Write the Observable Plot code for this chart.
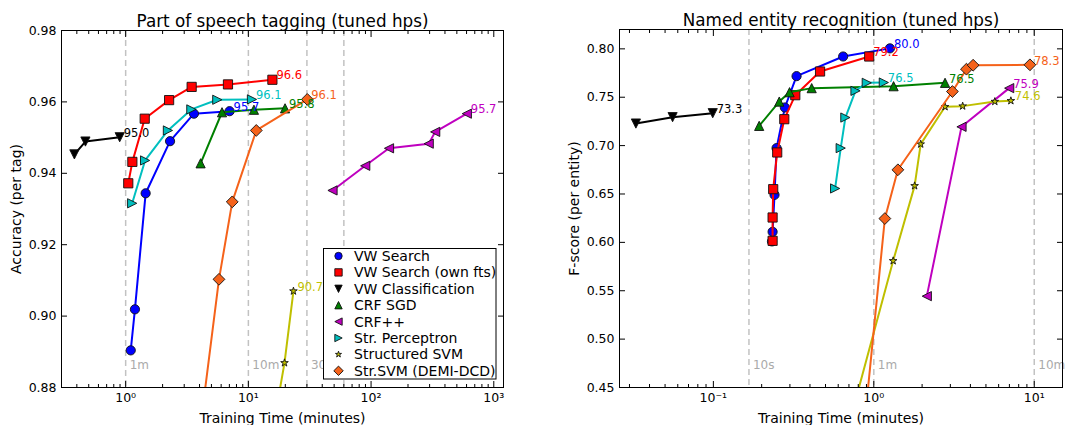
<!DOCTYPE html>
<html><head><meta charset="utf-8">
<script src="https://cdn.jsdelivr.net/npm/d3@7"></script>
<script src="https://cdn.jsdelivr.net/npm/@observablehq/plot@0.6"></script>
<style>
body{margin:0;background:#fff;width:1083px;height:425px;overflow:hidden;font-family:"DejaVu Sans",sans-serif}
#wrap{position:relative;width:1083px;height:425px}
#left{position:absolute;left:0;top:0}
#right{position:absolute;left:540px;top:0}
</style></head><body><div id="wrap"><div id="left"></div><div id="right"></div></div>
<script>
// ---------------- data ----------------
const seriesNames = ["VW Search","VW Search (own fts)","VW Classification","CRF SGD","CRF++","Str. Perceptron","Structured SVM","Str.SVM (DEMI-DCD)"];

// Part of speech tagging: [training time (minutes), accuracy per tag]
const posVwSearch    = [[1.10,0.8904],[1.19,0.9019],[1.455,0.9344],[2.30,0.9490],[3.60,0.9567],[7.03,0.9574]];
const posVwSearchOwn = [[1.05,0.9372],[1.134,0.9432],[1.43,0.9553],[2.26,0.9605],[3.45,0.9642],[6.82,0.9649],[15.7,0.9662]];
const posVwClass     = [[0.382,0.9453],[0.47,0.9489],[0.894,0.9501]];
const posCrfSgd      = [[4.08,0.9428],[6.1,0.9571],[11.1,0.9578],[19.9,0.9582]];
const posCrfpp       = [[48.5,0.9352],[89.6,0.9421],[140,0.9470],[295,0.9483],[333,0.9516],[603,0.9567]];
const posPerceptron  = [[1.13,0.9316],[1.44,0.9436],[2.21,0.9520],[3.43,0.9579],[5.58,0.9606],[10.7,0.9607]];
const posSsvm        = [[12.8,0.850],[19.7,0.8869],[23.3,0.9070]];
const posDemiDcd     = [[3.46,0.850],[5.76,0.9103],[7.39,0.9320],[11.6,0.9520],[30.2,0.9607]];
const posFinal       = ["95.7","96.6","95.0","95.8","95.7","96.1","90.7","96.1"];

// Named entity recognition: [training time (minutes), F-score per entity]
const nerVwSearch    = [[0.232,0.6010],[0.234,0.6109],[0.2405,0.6491],[0.2477,0.6974],[0.279,0.7394],[0.330,0.7718],[0.644,0.7921],[1.26,0.8005]];
const nerVwSearchOwn = [[0.234,0.6016],[0.234,0.6257],[0.236,0.6550],[0.250,0.6929],[0.2767,0.7273],[0.324,0.7521],[0.4624,0.7766],[0.936,0.7921]];
const nerVwClass     = [[0.0329,0.7228],[0.0557,0.7294],[0.0991,0.7335]];
const nerCrfSgd      = [[0.193,0.7204],[0.2575,0.7455],[0.2985,0.7552],[0.41,0.7594],[1.328,0.7614],[2.78,0.7649]];
const nerCrfpp       = [[2.14,0.5444],[3.52,0.7194],[6.98,0.7594]];
const nerPerceptron  = [[0.574,0.6557],[0.622,0.6974],[0.665,0.7290],[0.769,0.7566],[0.904,0.7649],[1.155,0.7652]];
const nerSsvm        = [[0.67,0.40],[1.32,0.5809],[1.796,0.6584],[1.96,0.7015],[2.78,0.7401],[3.58,0.7408],[5.68,0.7455],[7.15,0.7463]];
const nerDemiDcd     = [[0.86,0.40],[1.172,0.6246],[1.413,0.6750],[3.09,0.7559],[3.78,0.7790],[4.16,0.7831],[9.4,0.7835]];
const nerFinal       = ["80.0","79.2","73.3","76.5","75.9","76.5","74.6","78.3"];

// reference lines (minutes) and their labels (the 1h label is hidden by the legend in the reference)
const posMarkers = [1, 10, 30, 60];
const posMarkerLabels = ["1m","10m","30m",""];
const nerMarkers = [1/6, 1, 10];
const nerMarkerLabels = ["10s","1m","10m"];

const posYTicks = [0.88,0.90,0.92,0.94,0.96,0.98];
const nerYTicks = [0.45,0.50,0.55,0.60,0.65,0.70,0.75,0.80];

// ---------------- styles ----------------
const colors = ["#0000ff","#ff0000","#000000","#008000","#bf00bf","#00bfbf","#bfbf00","#f5621a"];
function poly(pts){ return {draw(ctx,size){ const r=Math.sqrt(size/Math.PI); ctx.moveTo(pts[0][0]*r,pts[0][1]*r); for(let i=1;i<pts.length;i++) ctx.lineTo(pts[i][0]*r,pts[i][1]*r); ctx.closePath(); }}; }
const starPts = d3.range(10).map(i=>{const a=-Math.PI/2+i*Math.PI/5; const rr=i%2?0.382:1; return [rr*Math.cos(a), rr*Math.sin(a)];});
const symbols = [
  d3.symbolCircle,
  poly([[-1,-1],[1,-1],[1,1],[-1,1]]),
  poly([[-1,-1],[1,-1],[0,1]]),
  poly([[-1,1],[1,1],[0,-1]]),
  poly([[1,-1],[1,1],[-1,0]]),
  poly([[-1,-1],[-1,1],[1,0]]),
  poly(starPts),
  poly([[0,-1],[1,0],[0,1],[-1,0]])
];
const radii = [4.6,4.6,4.6,4.6,4.6,4.6,4.0,5.9];

const supMap = {"-":"\u207B","0":"\u2070","1":"\u00B9","2":"\u00B2","3":"\u00B3"};
const supFmt = d => "10" + String(Math.round(Math.log10(d))).split("").map(c=>supMap[c]).join("");

function minorTicks(lo, hi){
  const out=[];
  for(let k=Math.floor(Math.log10(lo)); k<=Math.ceil(Math.log10(hi)); k++)
    for(let m=2;m<=9;m++){ const v=m*Math.pow(10,k); if(v>=lo && v<=hi) out.push(v); }
  return out;
}
function majorTicks(lo, hi){
  const out=[];
  for(let k=Math.ceil(Math.log10(lo)); k<=Math.floor(Math.log10(hi)); k++) out.push(Math.pow(10,k));
  return out;
}

function panel(cfg){
  const {width, height, margin, xDomain, yDomain, yTicks, dashes, dashLabels, series, finals, title, ylabel} = cfg;
  const marks = [];
  marks.push(Plot.ruleX(dashes, {x:d=>d, stroke:"#c2c2c2", strokeWidth:1.5, strokeDasharray:"6,4"}));
  marks.push(Plot.text(dashes, {x:d=>d, text:(d,i)=>dashLabels[i], frameAnchor:"bottom", dy:-22, dx:4, textAnchor:"start", lineAnchor:"middle", fill:"#aaaaaa", fontSize:12}));
  series.forEach((s,i)=>{
    marks.push(Plot.line(s, {x:d=>d[0], y:d=>d[1], stroke:colors[i], strokeWidth:2, clip:true}));
    marks.push(Plot.dot(s, {x:d=>d[0], y:d=>d[1], symbol:symbols[i], r:radii[i], fill:colors[i], stroke:"#111", strokeWidth:0.9, clip:true}));
  });
  series.forEach((s,i)=>{
    marks.push(Plot.text([s[s.length-1]], {x:d=>d[0], y:d=>d[1], text:()=>finals[i], dx:4, dy:-4, textAnchor:"start", lineAnchor:"middle", fill:colors[i], fontSize:11.5}));
  });
  const xMaj = majorTicks(xDomain[0], xDomain[1]);
  const xMin = minorTicks(xDomain[0], xDomain[1]);
  const blank = () => "";
  marks.push(Plot.frame({stroke:"#000", strokeWidth:1}));
  // labels
  marks.push(Plot.axisX({anchor:"bottom", ticks:xMaj, tickSize:0, tickPadding:6, tickFormat:supFmt, fontSize:12.5, label:null}));
  marks.push(Plot.axisY({anchor:"left", ticks:yTicks, tickSize:0, tickPadding:5, tickFormat:d3.format(".2f"), fontSize:12.5, label:null}));
  // inward tick marks (matplotlib style, all four sides)
  marks.push(Plot.axisX({anchor:"bottom", ticks:xMaj, tickSize:6, dy:-6, tickFormat:blank, label:null}));
  marks.push(Plot.axisX({anchor:"top", ticks:xMaj, tickSize:6, dy:6, tickFormat:blank, label:null}));
  marks.push(Plot.axisX({anchor:"bottom", ticks:xMin, tickSize:3, dy:-3, tickFormat:blank, label:null}));
  marks.push(Plot.axisX({anchor:"top", ticks:xMin, tickSize:3, dy:3, tickFormat:blank, label:null}));
  marks.push(Plot.axisY({anchor:"left", ticks:yTicks, tickSize:6, dx:6, tickFormat:blank, label:null}));
  marks.push(Plot.axisY({anchor:"right", ticks:yTicks, tickSize:6, dx:-6, tickFormat:blank, label:null}));
  marks.push(Plot.text([title], {text:d=>d, frameAnchor:"top", dy:-4, lineAnchor:"bottom", fontSize:16.8, fill:"#000"}));
  marks.push(Plot.text(["Training Time (minutes)"], {text:d=>d, frameAnchor:"bottom", dy:35, lineAnchor:"bottom", fontSize:14, fill:"#000"}));
  marks.push(Plot.text([ylabel], {text:d=>d, frameAnchor:"left", dx:-45, rotate:-90, lineAnchor:"middle", textAnchor:"middle", fontSize:14, fill:"#000"}));
  return Plot.plot({
    width, height,
    marginLeft:margin[0], marginRight:margin[1], marginTop:margin[2], marginBottom:margin[3],
    style:{fontFamily:"DejaVu Sans, sans-serif", fontSize:"12.5px", background:"white", color:"#000", overflow:"hidden"},
    x:{type:"log", domain:xDomain, nice:false},
    y:{domain:yDomain, nice:false},
    marks
  });
}

const left = panel({
  width:540, height:425, margin:[61,37,30,38],
  xDomain:[0.3,1200], yDomain:[0.88,0.98], yTicks:posYTicks,
  dashes:posMarkers, dashLabels:posMarkerLabels,
  series:[posVwSearch,posVwSearchOwn,posVwClass,posCrfSgd,posCrfpp,posPerceptron,posSsvm,posDemiDcd],
  finals:posFinal,
  title:"Part of speech tagging (tuned hps)", ylabel:"Accuracy (per tag)"
});
document.getElementById("left").appendChild(left);

const right = panel({
  width:543, height:425, margin:[79,21,29,38],
  xDomain:[0.026,15], yDomain:[0.45,0.82], yTicks:nerYTicks,
  dashes:nerMarkers, dashLabels:nerMarkerLabels,
  series:[nerVwSearch,nerVwSearchOwn,nerVwClass,nerCrfSgd,nerCrfpp,nerPerceptron,nerSsvm,nerDemiDcd],
  finals:nerFinal,
  title:"Named entity recognition (tuned hps)", ylabel:"F-score (per entity)"
});
document.getElementById("right").appendChild(right);

// legend inside the left panel
const g = d3.select(left).append("g").attr("font-family","DejaVu Sans, sans-serif").attr("text-anchor","start");
g.append("rect").attr("x",323.5).attr("y",248.5).attr("width",172.5).attr("height",130.5).attr("fill","white").attr("stroke","#000").attr("stroke-width",1);
seriesNames.forEach((name,i)=>{
  const y = 256 + i*16.4;
  const r = radii[i]*0.8;
  g.append("path").attr("transform",`translate(338.5,${y})`).attr("d", d3.symbol(symbols[i], r*r*Math.PI)())
    .attr("fill",colors[i]).attr("stroke","#111").attr("stroke-width",0.9);
  g.append("text").attr("x",354).attr("y",y).attr("dy","0.35em").attr("font-size",14).attr("fill","#000").attr("text-anchor","start").text(name);
});
</script></body></html>
